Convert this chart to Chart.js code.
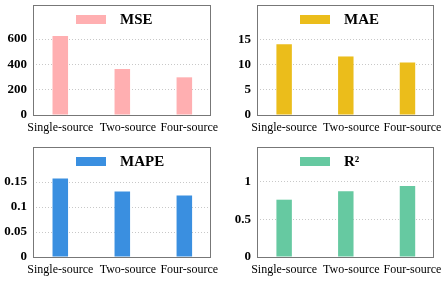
<!DOCTYPE html>
<html>
<head>
<script src="https://cdn.jsdelivr.net/npm/chart.js"></script>
<style>
  body { margin: 0; background: #fff; }
  .panel { position: absolute; width: 224px; height: 142px; }
</style>
</head>
<body>
<div class="panel" style="left:0;top:0"><canvas id="c0" width="224" height="142"></canvas></div>
<div class="panel" style="left:224px;top:0"><canvas id="c1" width="223" height="142"></canvas></div>
<div class="panel" style="left:0;top:142px"><canvas id="c2" width="224" height="142"></canvas></div>
<div class="panel" style="left:224px;top:142px"><canvas id="c3" width="223" height="142"></canvas></div>
<script>
const categories = ['Single-source', 'Two-source', 'Four-source'];

const mseValues = [625, 364, 298];
const maeValues = [14.0, 11.6, 10.4];
const mapeValues = [0.157, 0.131, 0.123];
const r2Values = [0.757, 0.868, 0.938];

const mseTicks = [0, 200, 400, 600];
const maeTicks = [0, 5, 10, 15];
const mapeTicks = [0, 0.05, 0.1, 0.15];
const r2Ticks = [0, 0.5, 1];

// each panel: label, values, ticks, axis top, colour
const panels = [
  { id: 'c0', label: 'MSE', values: mseValues, ticks: mseTicks, max: 870, color: '#ffafb1' },
  { id: 'c1', label: 'MAE', values: maeValues, ticks: maeTicks, max: 21.8, color: '#ebbd1b' },
  { id: 'c2', label: 'MAPE', values: mapeValues, ticks: mapeTicks, max: 0.22, color: '#3a8fe0' },
  { id: 'c3', label: 'R\u00b2', values: r2Values, ticks: r2Ticks, max: 1.453, color: '#66c9a1' }
];

// the original's category labels sit a little right of their bars
const labelShift = [0, 0.09, 0.08];

// box around the plot + the little legend inside it
const frame = {
  id: 'frame',
  afterDraw(chart) {
    const a = chart.chartArea, ctx = chart.ctx;
    const ds = chart.data.datasets[0];
    ctx.save();
    ctx.strokeStyle = '#777';
    ctx.lineWidth = 1;
    ctx.strokeRect(Math.round(a.left) + 0.5, Math.round(a.top) + 0.5,
                   Math.round(a.right - a.left) - 1, Math.round(a.bottom - a.top));
    ctx.fillStyle = ds.backgroundColor;
    ctx.fillRect(a.left + 43, a.top + 10, 30, 9);
    ctx.fillStyle = '#000';
    ctx.font = 'bold 15px "Liberation Serif"';
    ctx.textBaseline = 'middle';
    ctx.fillText(ds.label, a.left + 87, a.top + 15);
    ctx.restore();
  }
};

panels.forEach(p => {
  new Chart(document.getElementById(p.id), {
    type: 'bar',
    data: {
      datasets: [{
        label: p.label,
        data: p.values.map((v, i) => ({ x: i, y: v })),
        backgroundColor: p.color,
        borderWidth: 0,
        categoryPercentage: 1,
        barPercentage: 0.253
      }]
    },
    options: {
      responsive: false,
      animation: false,
      layout: { autoPadding: false, padding: { left: 0, top: 5, right: 13, bottom: 0 } },
      plugins: {
        tooltip: { enabled: false },
        legend: { display: false }
      },
      scales: {
        x: {
          type: 'linear',
          offset: false,
          min: -0.44,
          max: 2.43,
          grid: { display: false, drawTicks: false },
          border: { display: false },
          afterBuildTicks(s) { s.ticks = categories.map((c, i) => ({ value: i + labelShift[i] })); },
          ticks: {
            color: '#000',
            padding: 6,
            maxRotation: 0,
            autoSkip: false,
            font: { family: 'Liberation Serif', size: 12 },
            callback: (v, i) => categories[i]
          },
          afterFit(s) { s.height = 27; s.paddingLeft = 0; s.paddingRight = 0; }
        },
        y: {
          min: 0,
          max: p.max,
          grid: { color: '#c8c8c8', drawTicks: false },
          border: { display: false, dash: [1, 2] },
          afterBuildTicks(s) { s.ticks = p.ticks.map(v => ({ value: v })); },
          ticks: {
            color: '#000',
            padding: 6,
            font: { family: 'Liberation Serif', size: 13, weight: 'bold' },
            callback: v => String(v)
          },
          afterFit(s) { s.width = 33; s.paddingTop = 0; s.paddingBottom = 0; }
        }
      }
    },
    plugins: [frame]
  });
});
</script>
</body>
</html>
